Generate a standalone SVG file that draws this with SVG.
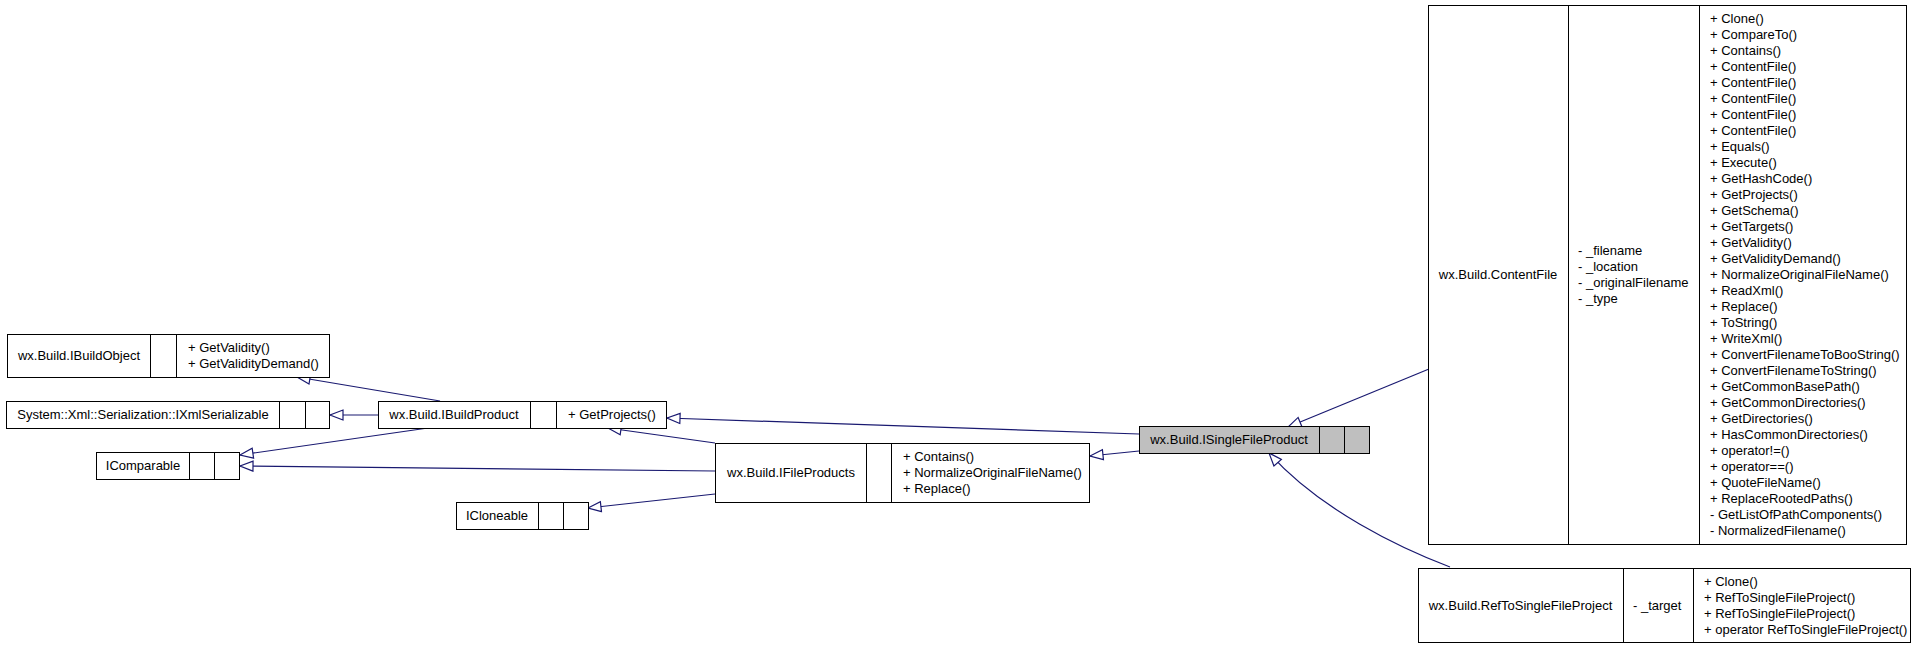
<svg xmlns="http://www.w3.org/2000/svg" width="1923" height="648" viewBox="0 0 1923 648">
<style>
.box{fill:#fff;stroke:#000;stroke-width:1}
.sel{fill:#bfbfbf;stroke:#000;stroke-width:1}
.dv{stroke:#000;stroke-width:1}
text{font-family:"Liberation Sans",Arial,sans-serif;font-size:13px;fill:#000}
.c{text-anchor:middle}
.e{fill:none;stroke:#191970;stroke-width:1.2}
</style>
<defs>
<marker id="inh" viewBox="-1 -6 15 12" refX="13" refY="0" markerWidth="15" markerHeight="12" markerUnits="userSpaceOnUse" orient="auto" overflow="visible">
<path d="M0,-5 L13,0 L0,5 Z" fill="#fff" stroke="#191970" stroke-width="1.2"/>
</marker>
</defs>
<rect width="1923" height="648" fill="#fff"/>
<g id="connectors">
<path class="e" d="M440,401 L297,377" marker-end="url(#inh)"/>
<path class="e" d="M379,415 L330,415" marker-end="url(#inh)"/>
<path class="e" d="M428,428 L240,455" marker-end="url(#inh)"/>
<path class="e" d="M715,471 L240,466" marker-end="url(#inh)"/>
<path class="e" d="M715,443 L608,428" marker-end="url(#inh)"/>
<path class="e" d="M715,494 L588,508" marker-end="url(#inh)"/>
<path class="e" d="M1139,434 L667,418" marker-end="url(#inh)"/>
<path class="e" d="M1139,451 L1090,456" marker-end="url(#inh)"/>
<path class="e" d="M1429,369 L1288,427" marker-end="url(#inh)"/>
<path class="e" d="M1450,567 C1400,548 1320,510 1269,453" marker-end="url(#inh)"/>
</g>
<g id="IBuildObject">
<rect class="box" x="7.5" y="334.5" width="322" height="43"/>
<line class="dv" x1="150.5" y1="334.5" x2="150.5" y2="377.5"/>
<line class="dv" x1="176.5" y1="334.5" x2="176.5" y2="377.5"/>
<text class="c" x="79" y="360">wx.Build.IBuildObject</text>
<text x="188" y="352">+ GetValidity()</text>
<text x="188" y="368">+ GetValidityDemand()</text>
</g>
<g id="IXmlSerializable">
<rect class="box" x="6.5" y="401.5" width="323" height="27"/>
<line class="dv" x1="279.5" y1="401.5" x2="279.5" y2="428.5"/>
<line class="dv" x1="305.5" y1="401.5" x2="305.5" y2="428.5"/>
<text class="c" x="143" y="419">System::Xml::Serialization::IXmlSerializable</text>
</g>
<g id="IComparable">
<rect class="box" x="96.5" y="452.5" width="143" height="27"/>
<line class="dv" x1="189.5" y1="452.5" x2="189.5" y2="479.5"/>
<line class="dv" x1="214.5" y1="452.5" x2="214.5" y2="479.5"/>
<text class="c" x="143" y="470">IComparable</text>
</g>
<g id="IBuildProduct">
<rect class="box" x="378.5" y="401.5" width="288" height="27"/>
<line class="dv" x1="530.5" y1="401.5" x2="530.5" y2="428.5"/>
<line class="dv" x1="556.5" y1="401.5" x2="556.5" y2="428.5"/>
<text class="c" x="454" y="419">wx.Build.IBuildProduct</text>
<text x="568" y="419">+ GetProjects()</text>
</g>
<g id="ICloneable">
<rect class="box" x="456.5" y="502.5" width="132" height="27"/>
<line class="dv" x1="538.5" y1="502.5" x2="538.5" y2="529.5"/>
<line class="dv" x1="563.5" y1="502.5" x2="563.5" y2="529.5"/>
<text class="c" x="497" y="520">ICloneable</text>
</g>
<g id="IFileProducts">
<rect class="box" x="715.5" y="443.5" width="374" height="59"/>
<line class="dv" x1="866.5" y1="443.5" x2="866.5" y2="502.5"/>
<line class="dv" x1="891.5" y1="443.5" x2="891.5" y2="502.5"/>
<text class="c" x="791" y="477">wx.Build.IFileProducts</text>
<text x="903" y="461">+ Contains()</text>
<text x="903" y="477">+ NormalizeOriginalFileName()</text>
<text x="903" y="493">+ Replace()</text>
</g>
<g id="ISingleFileProduct">
<rect class="sel" x="1139.5" y="426.5" width="230" height="27"/>
<line class="dv" x1="1319.5" y1="426.5" x2="1319.5" y2="453.5"/>
<line class="dv" x1="1344.5" y1="426.5" x2="1344.5" y2="453.5"/>
<text class="c" x="1229" y="444">wx.Build.ISingleFileProduct</text>
</g>
<g id="ContentFile">
<rect class="box" x="1428.5" y="5.5" width="478" height="539"/>
<line class="dv" x1="1568.5" y1="5.5" x2="1568.5" y2="544.5"/>
<line class="dv" x1="1699.5" y1="5.5" x2="1699.5" y2="544.5"/>
<text class="c" x="1498" y="279">wx.Build.ContentFile</text>
<text x="1578" y="255">- _filename</text>
<text x="1578" y="271">- _location</text>
<text x="1578" y="287">- _originalFilename</text>
<text x="1578" y="303">- _type</text>
<text x="1710" y="23">+ Clone()</text>
<text x="1710" y="39">+ CompareTo()</text>
<text x="1710" y="55">+ Contains()</text>
<text x="1710" y="71">+ ContentFile()</text>
<text x="1710" y="87">+ ContentFile()</text>
<text x="1710" y="103">+ ContentFile()</text>
<text x="1710" y="119">+ ContentFile()</text>
<text x="1710" y="135">+ ContentFile()</text>
<text x="1710" y="151">+ Equals()</text>
<text x="1710" y="167">+ Execute()</text>
<text x="1710" y="183">+ GetHashCode()</text>
<text x="1710" y="199">+ GetProjects()</text>
<text x="1710" y="215">+ GetSchema()</text>
<text x="1710" y="231">+ GetTargets()</text>
<text x="1710" y="247">+ GetValidity()</text>
<text x="1710" y="263">+ GetValidityDemand()</text>
<text x="1710" y="279">+ NormalizeOriginalFileName()</text>
<text x="1710" y="295">+ ReadXml()</text>
<text x="1710" y="311">+ Replace()</text>
<text x="1710" y="327">+ ToString()</text>
<text x="1710" y="343">+ WriteXml()</text>
<text x="1710" y="359">+ ConvertFilenameToBooString()</text>
<text x="1710" y="375">+ ConvertFilenameToString()</text>
<text x="1710" y="391">+ GetCommonBasePath()</text>
<text x="1710" y="407">+ GetCommonDirectories()</text>
<text x="1710" y="423">+ GetDirectories()</text>
<text x="1710" y="439">+ HasCommonDirectories()</text>
<text x="1710" y="455">+ operator!=()</text>
<text x="1710" y="471">+ operator==()</text>
<text x="1710" y="487">+ QuoteFileName()</text>
<text x="1710" y="503">+ ReplaceRootedPaths()</text>
<text x="1710" y="519">- GetListOfPathComponents()</text>
<text x="1710" y="535">- NormalizedFilename()</text>
</g>
<g id="RefToSingleFileProject">
<rect class="box" x="1418.5" y="568.5" width="492" height="74"/>
<line class="dv" x1="1623.5" y1="568.5" x2="1623.5" y2="642.5"/>
<line class="dv" x1="1693.5" y1="568.5" x2="1693.5" y2="642.5"/>
<text class="c" x="1520.5" y="610">wx.Build.RefToSingleFileProject</text>
<text x="1633" y="610">- _target</text>
<text x="1704" y="586">+ Clone()</text>
<text x="1704" y="602">+ RefToSingleFileProject()</text>
<text x="1704" y="618">+ RefToSingleFileProject()</text>
<text x="1704" y="634">+ operator RefToSingleFileProject()</text>
</g>
</svg>
